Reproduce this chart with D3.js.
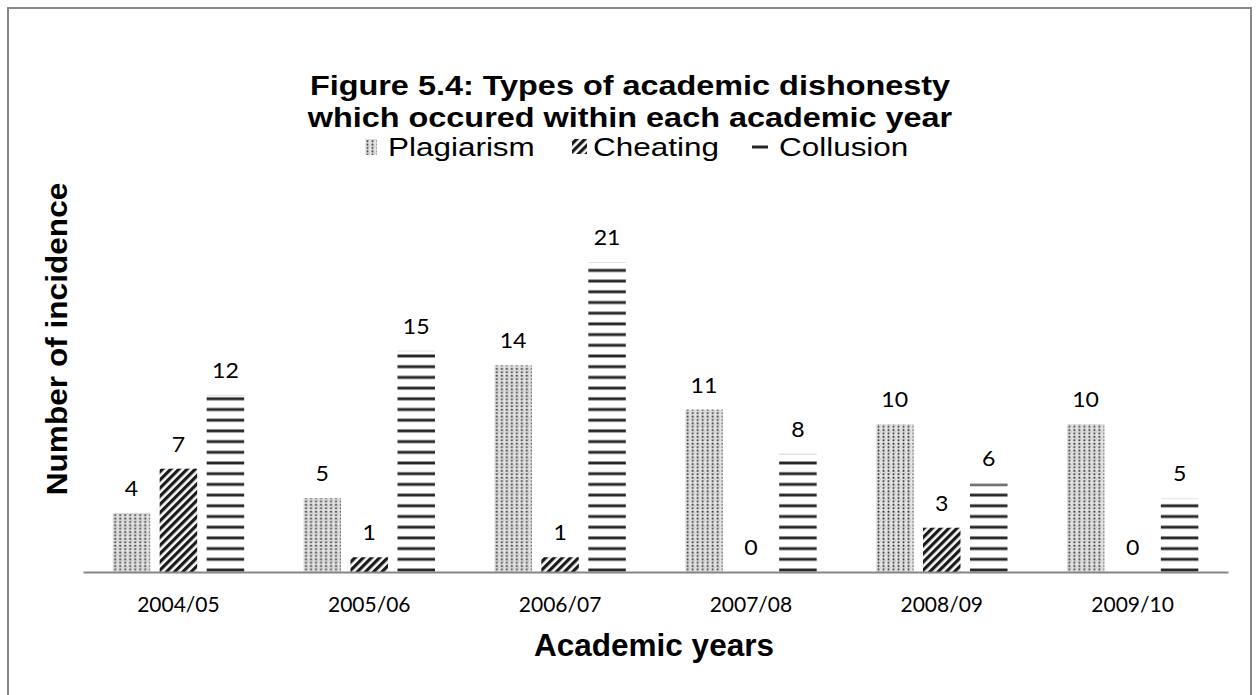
<!DOCTYPE html>
<html>
<head>
<meta charset="utf-8">
<script src="https://cdn.jsdelivr.net/npm/d3@7"></script>
<style>
  html, body { margin: 0; padding: 0; background: #fff; }
  svg { display: block; }
</style>
</head>
<body>
<svg id="chart" width="1259" height="695"></svg>
<script>
// Academic years and the incidence counts per type of dishonesty
const years = ["2004/05", "2005/06", "2006/07", "2007/08", "2008/09", "2009/10"];
const seriesNames = ["Plagiarism", "Cheating", "Collusion"];
const plagiarism = [4, 5, 14, 11, 10, 10];
const cheating = [7, 1, 1, 0, 3, 0];
const collusion = [12, 15, 21, 8, 6, 5];

const seriesValues = [plagiarism, cheating, collusion];
const rows = years.map((yr, i) => ({
  year: yr,
  values: seriesNames.map((s, j) => ({ series: s, idx: j, value: seriesValues[j][i] }))
}));

const svg = d3.select("#chart");
const W = 1259, H = 695;
const SANS = "'Liberation Sans', Arial, Helvetica, sans-serif";
const LABEL_FONT = "Lato, Carlito, Calibri, sans-serif";

// Hatch fills for the three series
const defs = svg.append("defs");

// dotted fill
const pDots = defs.append("pattern")
  .attr("id", "pat0").attr("patternUnits", "userSpaceOnUse")
  .attr("width", 5).attr("height", 6.8);
pDots.append("rect").attr("width", 5).attr("height", 6.8).attr("fill", "#e4e4e4");
pDots.append("rect").attr("x", 1.6).attr("y", 0.8).attr("width", 1.8).attr("height", 1.8).attr("fill", "#2b2b2b");
pDots.append("rect").attr("x", 1.6).attr("y", 4.2).attr("width", 1.8).attr("height", 1.8).attr("fill", "#3a3a3a");
pDots.append("rect").attr("x", 4.2).attr("y", 2.5).attr("width", 0.8).attr("height", 1.8).attr("fill", "#bdbdbd");

// wide upward diagonal fill
const pDiag = defs.append("pattern")
  .attr("id", "pat1").attr("patternUnits", "userSpaceOnUse")
  .attr("width", 5.8).attr("height", 6)
  .attr("patternTransform", "rotate(45)");
pDiag.append("rect").attr("width", 5.8).attr("height", 6).attr("fill", "#fafafa");
pDiag.append("rect").attr("x", 0).attr("width", 3.2).attr("height", 6).attr("fill", "#1a1a1a");

// horizontal line fill, lines aligned to the baseline
const pHoriz = defs.append("pattern")
  .attr("id", "pat2").attr("patternUnits", "userSpaceOnUse")
  .attr("width", 10).attr("height", 10.7);
pHoriz.append("rect").attr("width", 10).attr("height", 10.7).attr("fill", "#fff");
pHoriz.append("rect").attr("y", 1.2).attr("width", 10).attr("height", 3.4).attr("fill", "#bdbdbd");
pHoriz.append("rect").attr("y", 1.6).attr("width", 10).attr("height", 2.6).attr("fill", "#262626");

// Outer frame
svg.append("rect")
  .attr("x", 8).attr("y", 8).attr("width", W - 16).attr("height", H + 10)
  .attr("fill", "#fff").attr("stroke", "#888").attr("stroke-width", 2);

// Scales
const x0 = d3.scaleBand().domain(years).range([83, 1228]).paddingInner(0).paddingOuter(0);
const barW = 37.5, barGap = 9.5;
const groupW = seriesNames.length * barW + (seriesNames.length - 1) * barGap;
const y = d3.scaleLinear().domain([0, 21]).range([572, 262]);

// Bars
const groups = svg.append("g").selectAll("g").data(rows).join("g")
  .attr("transform", d => `translate(${x0(d.year) + (x0.bandwidth() - groupW) / 2},0)`);

groups.selectAll("rect.bar").data(d => d.values).join("rect")
  .attr("class", "bar")
  .attr("x", d => d.idx * (barW + barGap))
  .attr("y", d => y(d.value))
  .attr("width", barW)
  .attr("height", d => y(0) - y(d.value))
  .attr("fill", d => `url(#pat${d.idx})`);

// faint cap on top of the line-filled bars
groups.selectAll("line.cap").data(d => d.values.filter(v => v.idx === 2 && v.value > 0)).join("line")
  .attr("class", "cap")
  .attr("x1", d => d.idx * (barW + barGap))
  .attr("x2", d => d.idx * (barW + barGap) + barW)
  .attr("y1", d => y(d.value) + 0.5)
  .attr("y2", d => y(d.value) + 0.5)
  .attr("stroke", "#e2e2e2").attr("stroke-width", 1);

// Value labels
groups.selectAll("text").data(d => d.values).join("text")
  .attr("transform", d => `translate(${d.idx * (barW + barGap) + barW / 2},${y(d.value) - 17}) scale(1.1,1)`)
  .attr("text-anchor", "middle")
  .attr("font-family", LABEL_FONT)
  .attr("font-size", 21)
  .attr("fill", "#000")
  .text(d => d.value);

// X axis
const xAxis = svg.append("g")
  .attr("transform", `translate(0,${y(0)})`)
  .call(d3.axisBottom(x0).tickSize(0).tickPadding(25));
xAxis.select(".domain").attr("stroke", "#868686").attr("stroke-width", 2);
xAxis.selectAll("text")
  .attr("font-family", LABEL_FONT)
  .attr("font-size", 21)
  .attr("fill", "#000");

// Horizontally widened text helper
function wideText(sel, x, yPos, sx, txt, opts) {
  const t = sel.append("text")
    .attr("transform", `translate(${x},${yPos}) scale(${sx},1)`)
    .attr("text-anchor", opts.anchor || "start")
    .attr("font-family", SANS)
    .attr("font-weight", opts.weight || "normal")
    .attr("font-size", opts.size)
    .attr("fill", "#000")
    .text(txt);
  return t;
}

// Titles
wideText(svg, 630, 95, 1.2, "Figure 5.4: Types of academic dishonesty", { anchor: "middle", weight: "bold", size: 27 });
wideText(svg, 630, 127, 1.2, "which occured within each academic year", { anchor: "middle", weight: "bold", size: 27 });
wideText(svg, 654, 656, 1.0, "Academic years", { anchor: "middle", weight: "bold", size: 31.5 });

svg.append("text")
  .attr("transform", "translate(67,339) rotate(-90) scale(1.09,1)")
  .attr("text-anchor", "middle")
  .attr("font-family", SANS)
  .attr("font-weight", "bold").attr("font-size", 29).attr("fill", "#000")
  .text("Number of incidence");

// Legend
const legendItems = [
  { name: "Plagiarism", idx: 0, sx: 365, tx: 388 },
  { name: "Cheating", idx: 1, sx: 572, tx: 593 },
  { name: "Collusion", idx: 2, sx: 752, tx: 779 }
];
const legend = svg.append("g");
legendItems.forEach(it => {
  if (it.idx === 2) {
    legend.append("rect").attr("x", it.sx).attr("y", 145.5).attr("width", 16).attr("height", 3)
      .attr("fill", "#262626");
  } else if (it.idx === 0) {
    legend.append("rect").attr("x", it.sx).attr("y", 139).attr("width", 12).attr("height", 16)
      .attr("fill", "url(#pat0)");
  } else {
    legend.append("rect").attr("x", it.sx).attr("y", 139).attr("width", 15).attr("height", 15)
      .attr("fill", "url(#pat1)");
  }
  wideText(legend, it.tx, 156, 1.21, it.name, { size: 26 });
});
</script>
</body>
</html>
